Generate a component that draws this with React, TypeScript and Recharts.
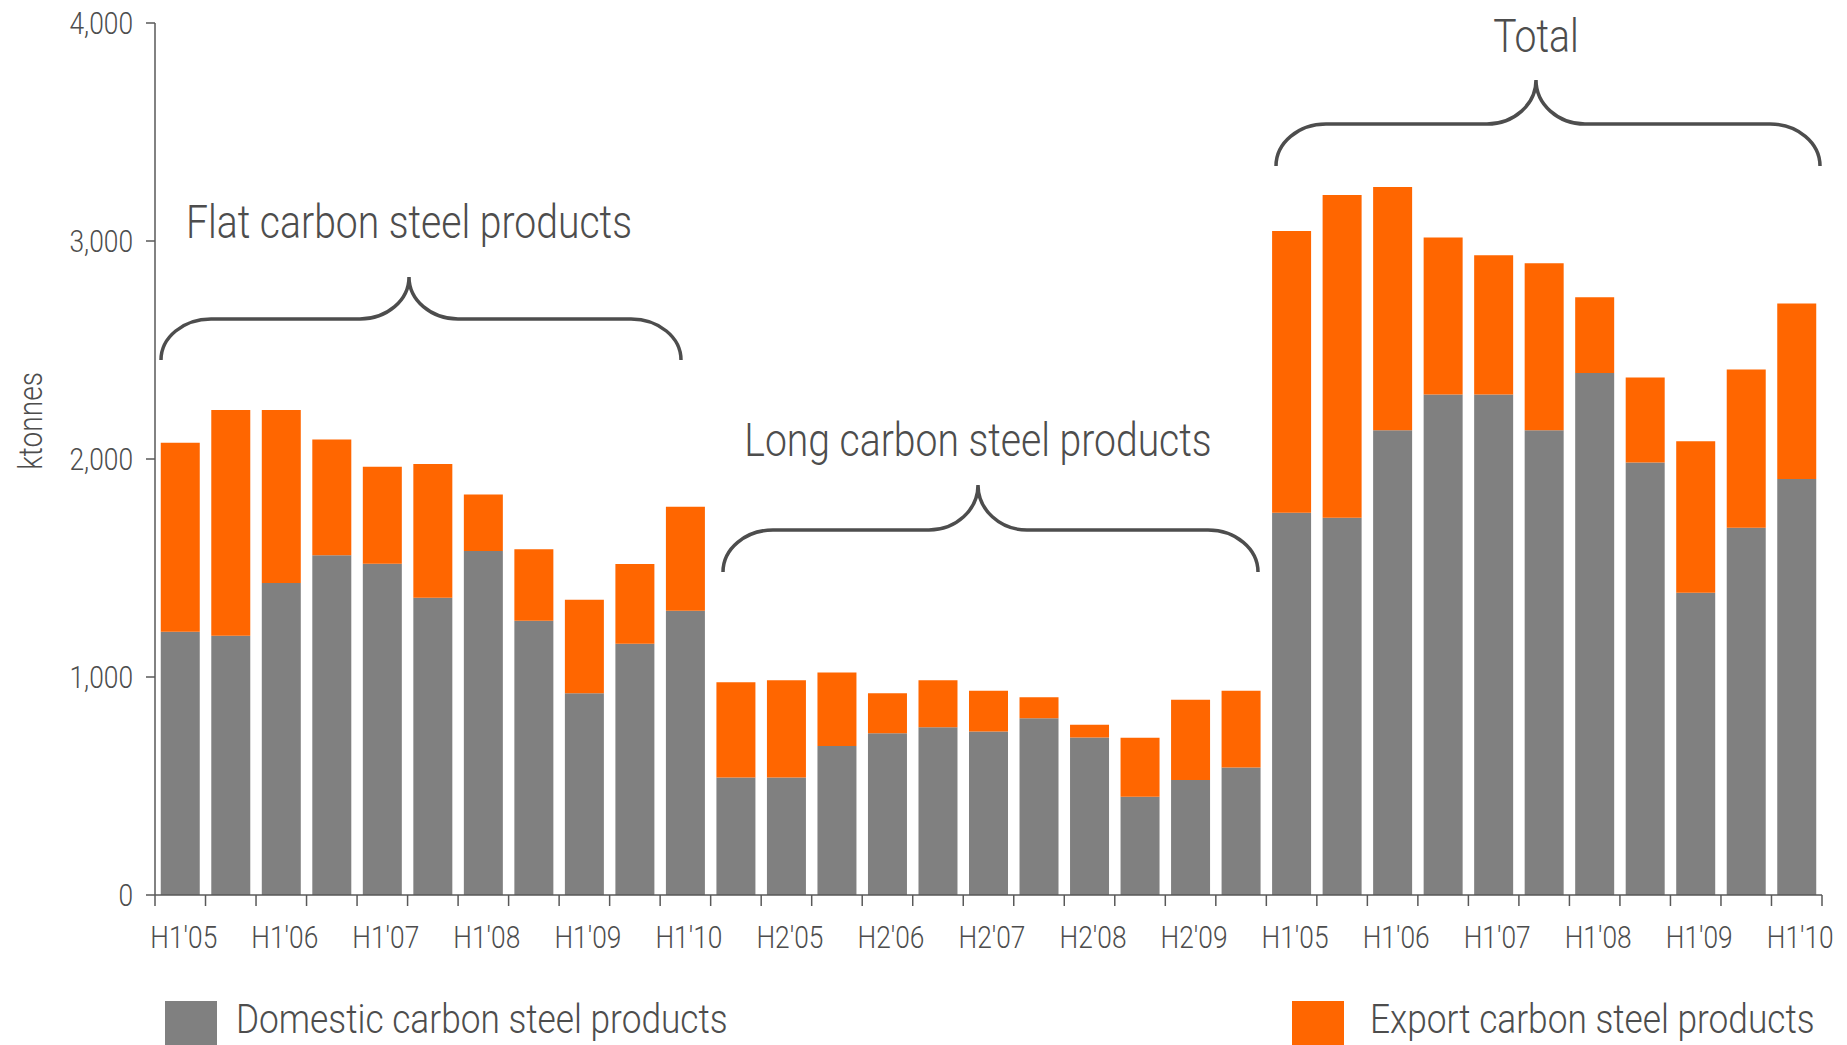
import { Bar, BarChart, XAxis, YAxis } from "recharts";

// half-year periods, repeated for each product group
const PERIODS = ["H1'05", "H2'05", "H1'06", "H2'06", "H1'07", "H2'07", "H1'08", "H2'08", "H1'09", "H2'09", "H1'10"];

const FLAT_DOMESTIC = [1207, 1189, 1431, 1558, 1520, 1363, 1578, 1258, 926, 1152, 1304];
const FLAT_EXPORT = [867, 1036, 794, 532, 445, 614, 259, 328, 428, 366, 477];

const LONG_DOMESTIC = [539, 539, 683, 742, 770, 750, 811, 723, 451, 528, 585];
const LONG_EXPORT = [437, 446, 338, 183, 215, 187, 96, 58, 270, 368, 352];

const TOTAL_DOMESTIC = [1753, 1731, 2132, 2296, 2296, 2132, 2395, 1984, 1387, 1685, 1908];
const TOTAL_EXPORT = [1293, 1480, 1116, 720, 639, 766, 347, 390, 694, 726, 805];

const Y_TICKS = [0, 1000, 2000, 3000, 4000];

const GROUP_TITLES = ["Flat carbon steel products", "Long carbon steel products", "Total"];
const SERIES_NAMES = ["Domestic carbon steel products", "Export carbon steel products"];

const rows = [
  ...PERIODS.map((p, i) => ({ period: p, domestic: FLAT_DOMESTIC[i], export: FLAT_EXPORT[i] })),
  ...PERIODS.map((p, i) => ({ period: p, domestic: LONG_DOMESTIC[i], export: LONG_EXPORT[i] })),
  ...PERIODS.map((p, i) => ({ period: p, domestic: TOTAL_DOMESTIC[i], export: TOTAL_EXPORT[i] })),
];

const W = 1847;
const H = 1045;
const MARGIN = { top: 23, right: 25, bottom: 90, left: 0 };
const Y_AXIS_W = 155;
const BAND = (W - MARGIN.left - MARGIN.right - Y_AXIS_W) / rows.length;

const GRAY = "#808080";
const ORANGE = "#ff6600";
const AXIS = "#595959";
const TEXT = "#4d4d4d";
const FONT = "Roboto, 'Liberation Sans', sans-serif";
// no condensed face installed, so squeeze the text horizontally
const SQUEEZE = 0.85;

function NarrowText({ x, y, size, anchor = "start", rotate = 0, squeeze = SQUEEZE, children }: any) {
  return (
    <text
      transform={`translate(${x} ${y}) rotate(${rotate}) scale(${squeeze} 1)`}
      textAnchor={anchor}
      fill={TEXT}
      fontSize={size}
      fontWeight={300}
    >
      {children}
    </text>
  );
}

function PeriodTick(props: any) {
  const { x, y, payload, index } = props;
  const half = BAND / 2;
  const last = index === rows.length - 1;
  return (
    <g>
      <line x1={x - half} x2={x - half} y1={y} y2={y + 11} stroke={AXIS} strokeWidth={1.5} />
      {last ? <line x1={x + half} x2={x + half} y1={y} y2={y + 11} stroke={AXIS} strokeWidth={1.5} /> : null}
      {index % 2 === 0 ? (
        <NarrowText x={x + 3.5} y={y + 53} size={31} anchor="middle">
          {payload.value}
        </NarrowText>
      ) : null}
    </g>
  );
}

function ValueTick(props: any) {
  const { x, y, payload } = props;
  return (
    <NarrowText x={x} y={y + 11} size={31} anchor="end">
      {Number(payload.value).toLocaleString("en-US")}
    </NarrowText>
  );
}

// curly brace over a group of bars; the tip sits under the group title
function brace(x0: number, x1: number, tipX: number, yEnd: number, yLine: number, yTip: number) {
  const rx = 50;
  const ry = yEnd - yLine;
  const rx2 = 49;
  const ry2 = yLine - yTip;
  return [
    `M${x0},${yEnd}`,
    `A${rx},${ry} 0 0 1 ${x0 + rx},${yLine}`,
    `L${tipX - rx2},${yLine}`,
    `A${rx2},${ry2} 0 0 0 ${tipX},${yTip}`,
    `A${rx2},${ry2} 0 0 0 ${tipX + rx2},${yLine}`,
    `L${x1 - rx},${yLine}`,
    `A${rx},${ry} 0 0 1 ${x1},${yEnd}`,
  ].join(" ");
}

export default function App() {
  return (
    <div
      style={{
        position: "fixed",
        left: 0,
        top: 0,
        width: W,
        height: H,
        overflow: "hidden",
        background: "#fff",
        fontFamily: FONT,
      }}
    >
      <BarChart width={W} height={H} data={rows} margin={MARGIN} barCategoryGap="11.4%">
        <XAxis
          dataKey="period"
          interval={0}
          height={60}
          tickLine={false}
          tickSize={0}
          tickMargin={0}
          axisLine={{ stroke: AXIS, strokeWidth: 1.5 }}
          tick={<PeriodTick />}
        />
        <YAxis
          width={Y_AXIS_W}
          domain={[0, 4000]}
          ticks={Y_TICKS}
          tickSize={9}
          tickMargin={13}
          axisLine={{ stroke: AXIS, strokeWidth: 1.5 }}
          tickLine={{ stroke: AXIS, strokeWidth: 1.5 }}
          tick={<ValueTick />}
        />
        <Bar dataKey="domestic" stackId="s" fill={GRAY} name={SERIES_NAMES[0]} isAnimationActive={false} />
        <Bar dataKey="export" stackId="s" fill={ORANGE} name={SERIES_NAMES[1]} isAnimationActive={false} />
      </BarChart>

      <svg width={W} height={H} style={{ position: "absolute", left: 0, top: 0, pointerEvents: "none" }}>
        <NarrowText x={42} y={421} size={33} anchor="middle" rotate={-90}>
          ktonnes
        </NarrowText>

        <path d={brace(161, 681, 409, 360, 319, 277)} fill="none" stroke={TEXT} strokeWidth={3.5} />
        <NarrowText x={409} y={238} size={46} anchor="middle">
          {GROUP_TITLES[0]}
        </NarrowText>

        <path d={brace(723, 1258, 978, 572, 530, 485)} fill="none" stroke={TEXT} strokeWidth={3.5} />
        <NarrowText x={978} y={456} size={46} anchor="middle">
          {GROUP_TITLES[1]}
        </NarrowText>

        <path d={brace(1276, 1820, 1536, 166, 124, 80)} fill="none" stroke={TEXT} strokeWidth={3.5} />
        <NarrowText x={1536} y={52} size={46} anchor="middle">
          {GROUP_TITLES[2]}
        </NarrowText>

        <rect x={165} y={1001} width={52} height={52} fill={GRAY} />
        <NarrowText x={236} y={1033} size={41} squeeze={0.86}>
          {SERIES_NAMES[0]}
        </NarrowText>
        <rect x={1292} y={1001} width={52} height={52} fill={ORANGE} />
        <NarrowText x={1370} y={1033} size={41} squeeze={0.86}>
          {SERIES_NAMES[1]}
        </NarrowText>
      </svg>
    </div>
  );
}
